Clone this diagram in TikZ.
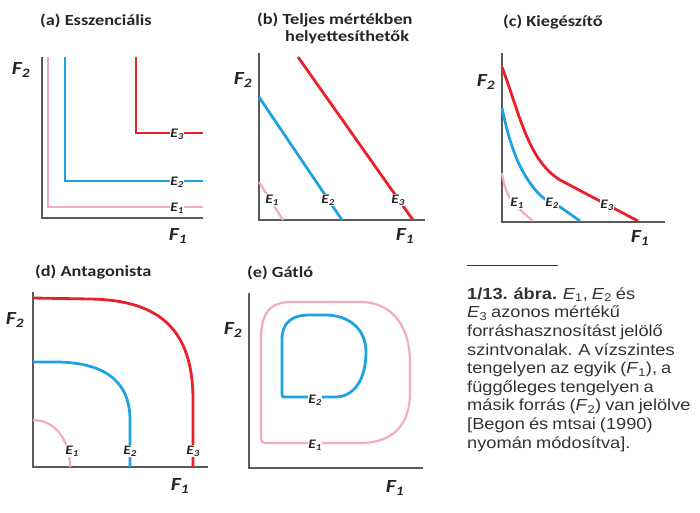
\documentclass[tikz,border=0pt]{standalone}
\usepackage{fontspec}
\setmainfont[FakeStretch=1.18]{Carlito}
\newfontfamily\capfont[FakeStretch=1.14,WordSpace=0.8]{Liberation Sans}
\definecolor{axisgray}{HTML}{5A5A5A}
\definecolor{pinkc}{HTML}{F6A9C3}
\definecolor{bluec}{HTML}{1FA3E0}
\definecolor{redc}{HTML}{E8222B}
\definecolor{capgray}{HTML}{333333}
\tikzset{
 ax/.style={draw=axisgray, line width=2.2pt},
 cA/.style={draw=pinkc, line width=2.2pt},
 cB/.style={draw=bluec, line width=2.8pt},
 cC/.style={draw=redc, line width=2.8pt},
 elab/.style={fill=white, inner sep=0.5pt, text=black!85, font=\bfseries\itshape\fontsize{13}{13}\selectfont},
 flab/.style={inner sep=0pt, text=black!85, font=\bfseries\itshape\fontsize{18.5}{18.5}\selectfont},
 ttl/.style={anchor=west, inner sep=0pt, text=black!85, font=\bfseries\fontsize{15.5}{17}\selectfont},
 captxt/.style={anchor=base west, inner sep=0pt, text=capgray, font=\capfont\fontsize{16}{18}\selectfont}
}
\newcommand{\Esub}[1]{E\textsubscript{#1}}
\newcommand{\Fsub}[1]{F\textsubscript{#1}}
\begin{document}
\begin{tikzpicture}[x=1pt,y=-1pt]
\useasboundingbox (0,0) rectangle (700,512);

% ---------- (a) ----------
\node[ttl] (ta) at (40,21) {(a) Esszenciális};
\draw[ax] (42,57) -- (42,218) -- (203,218);
\node[flab] (fa2) at (21,70) {\Fsub{2}};
\node[flab] (fa1) at (178,236) {\Fsub{1}};
\draw[cA] (48,57) -- (48,207) -- (203,207);
\draw[cB] (65,57) -- (65,181) -- (203,181);
\draw[cC] (136,57) -- (136,133) -- (203,133);
\node[elab] (ea1) at (177,208) {\Esub{1}};
\node[elab] (ea2) at (177,182) {\Esub{2}};
\node[elab] (ea3) at (177,134) {\Esub{3}};

% ---------- (b) ----------
\node[ttl] (tb1) at (257,20) {(b) Teljes mértékben};
\node[ttl] (tb2) at (285,37) {helyettesíthetők};
\draw[ax] (259,53) -- (259,220) -- (425,220);
\node[flab] (fb2) at (243,80) {\Fsub{2}};
\node[flab] (fb1) at (405,236) {\Fsub{1}};
\draw[cA] (259,182) -- (283,220);
\draw[cB] (259,97) -- (342,220);
\draw[cC] (298,57) -- (413,220);
\node[elab] (eb1) at (272,200) {\Esub{1}};
\node[elab] (eb2) at (328,200) {\Esub{2}};
\node[elab] (eb3) at (398,200) {\Esub{3}};

% ---------- (c) ----------
\node[ttl] (tc) at (503,22) {(c) Kiegészítő};
\draw[ax] (502,53) -- (502,222) -- (665,222);
\node[flab] (fc2) at (486,82) {\Fsub{2}};
\node[flab] (fc1) at (640,238) {\Fsub{1}};
\draw[cA] plot[smooth, tension=0.7] coordinates {(502,173) (510,198) (533,221)};
\draw[cB] plot[smooth, tension=0.6] coordinates {(502,108) (510,140) (522,170) (540,195) (560,207) (580,221)};
\draw[cC] (502,67) .. controls (520,115) and (528,160) .. (560,180) -- (638,221);
\node[elab] (ec1) at (517,203) {\Esub{1}};
\node[elab] (ec2) at (552,203) {\Esub{2}};
\node[elab] (ec3) at (607,205) {\Esub{3}};

% ---------- (d) ----------
\node[ttl] (td) at (35,272) {(d) Antagonista};
\draw[ax] (33,292) -- (33,467) -- (208,467);
\node[flab] (fd2) at (15,320) {\Fsub{2}};
\node[flab] (fd1) at (180,486) {\Fsub{1}};
\draw[cA] (33,420) .. controls (55,420) and (70,440) .. (70,467);
\draw[cB] (33,362) -- (55,362) .. controls (100,362) and (130,378) .. (130,420) -- (130,467);
\draw[cC] (33,298) -- (90,299) .. controls (160,300) and (193,330) .. (193,400) -- (193,467);
\node[elab] (ed1) at (72,451) {\Esub{1}};
\node[elab] (ed2) at (130,451) {\Esub{2}};
\node[elab] (ed3) at (193,451) {\Esub{3}};

% ---------- (e) ----------
\node[ttl] (te) at (247,273) {(e) Gátló};
\draw[ax] (249,293) -- (249,468) -- (423,468);
\node[flab] (fe2) at (233,330) {\Fsub{2}};
\node[flab] (fe1) at (395,488) {\Fsub{1}};
\draw[cA] (261,340) .. controls (261,312) and (270,302) .. (292,302) -- (360,302)
  .. controls (395,302) and (410,330) .. (410,362) -- (410,392)
  .. controls (410,425) and (393,443) .. (360,443)
  [rounded corners=4pt] -- (261,443) -- (261,330);
\draw[cB] (282,340) .. controls (282,322) and (292,315) .. (310,315) -- (325,315)
  .. controls (350,315) and (366,330) .. (366,352)
  .. controls (366,378) and (355,397) .. (335,397)
  [rounded corners=2pt] -- (282,397) -- (282,335);
\node[elab] (ee1) at (315,445) {\Esub{1}};
\node[elab] (ee2) at (315,400) {\Esub{2}};

% ---------- caption ----------
\coordinate (s1) at (467,265);
\coordinate (s2) at (558,265);
\draw[capgray, line width=1pt] (s1) -- (s2);
\node[captxt] (cap1) at (467,299.3) {\textbf{1/13. ábra.} \textit{E}\textsubscript{1}, \textit{E}\textsubscript{2} és};
\node[captxt] (cap2) at (467,317.9) {\textit{E}\textsubscript{3} azonos mértékű};
\node[captxt] (cap3) at (467,336.5) {forráshasznosítást jelölő};
\node[captxt] (cap4) at (467,355.1) {szintvonalak. A vízszintes};
\node[captxt] (cap5) at (467,373.7) {tengelyen az egyik (\textit{F}\textsubscript{1}), a};
\node[captxt] (cap6) at (467,392.3) {függőleges tengelyen a};
\node[captxt] (cap7) at (467,410.9) {másik forrás (\textit{F}\textsubscript{2}) van jelölve};
\node[captxt] (cap8) at (467,429.5) {[Begon és mtsai (1990)};
\node[captxt] (cap9) at (467,448.1) {nyomán módosítva].};
\end{tikzpicture}
\end{document}
